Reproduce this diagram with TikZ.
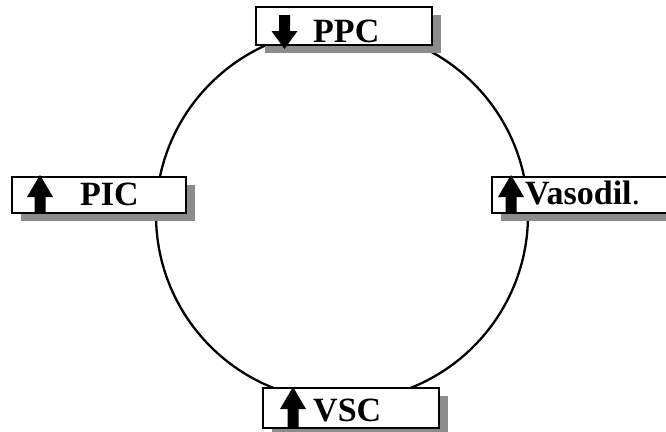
\documentclass[tikz,border=0pt]{standalone}
\usepackage{fontspec}
\setmainfont{Liberation Serif}
\usetikzlibrary{shadows}
\definecolor{shadowgray}{RGB}{140,140,140}
\begin{document}
\begin{tikzpicture}[x=1pt,y=-1pt,
  labelbox/.style={draw=black, line width=1.4pt, fill=white, rectangle, inner sep=0pt,
    drop shadow={shadow xshift=9pt, shadow yshift=-8pt, fill=shadowgray, opacity=1}},
  blockarrow/.style={fill=black, draw=none},
  labeltext/.style={anchor=base west, inner sep=0pt, font=\fontsize{34}{40}\selectfont\bfseries}]
\clip (0,0) rectangle (666,431);
\useasboundingbox (0,0) rectangle (666,431);
% ring
\node[circle, draw=black, line width=2.3pt, minimum size=372pt, inner sep=0pt] (ring) at (342,215) {};
% boxes
\node[labelbox, minimum width=176pt, minimum height=38pt] (ppcbox) at (344,26) {};
\node[labelbox, minimum width=174pt, minimum height=36pt] (picbox) at (99,195) {};
\node[labelbox, minimum width=190pt, minimum height=36pt] (vasbox) at (587,195) {};
\node[labelbox, minimum width=176pt, minimum height=40pt] (vscbox) at (351,408) {};
% arrows
\fill[blockarrow] (279,15) -- (290,15) -- (290,31) -- (297.5,31) -- (284.5,49) -- (271.5,31) -- (279,31) -- cycle;
\fill[blockarrow] (34.5,213) -- (45.5,213) -- (45.5,197) -- (53,197) -- (40,175) -- (27,197) -- (34.5,197) -- cycle;
\fill[blockarrow] (505.5,213) -- (516.5,213) -- (516.5,197) -- (524,197) -- (511,175) -- (498,197) -- (505.5,197) -- cycle;
\fill[blockarrow] (287.5,428) -- (298.5,428) -- (298.5,409) -- (306,409) -- (293,387) -- (280,409) -- (287.5,409) -- cycle;
% labels
\node[labeltext] (ppc) at (313,42) {PPC};
\node[labeltext] (pic) at (80,205) {PIC};
\node[labeltext] (vas) at (525,204) {Vasodil\mdseries.};
\node[labeltext] (vsc) at (313,421) {VSC};
\end{tikzpicture}
\end{document}
